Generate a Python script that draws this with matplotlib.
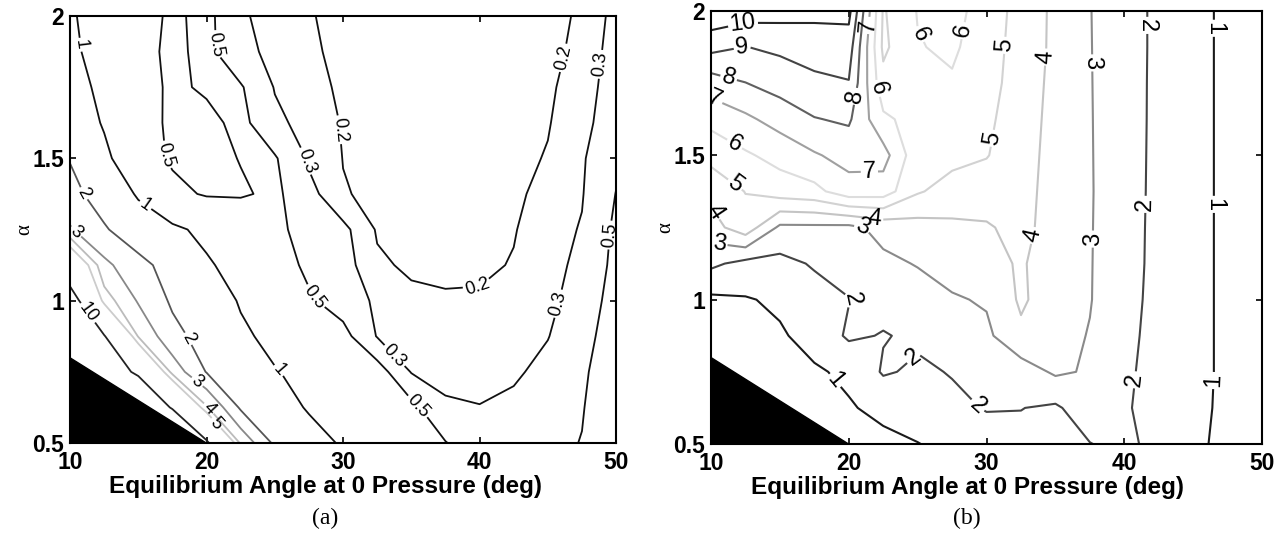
import numpy as np
import matplotlib
matplotlib.use("Agg")
import matplotlib.pyplot as plt

plt.rcParams['font.family'] = ['Liberation Sans', 'DejaVu Sans']

# grid of equilibrium angle (deg) and alpha shared by both panels
angle = [10, 12.5, 15, 17.5, 20, 22.5, 25, 27.5, 30, 32.5, 35, 37.5, 40, 42.5, 45, 47.5, 50]
alpha = [2.0, 1.875, 1.75, 1.625, 1.5, 1.375, 1.25, 1.125, 1.0, 0.875, 0.75, 0.625, 0.5]

# panel (a): values, first row is alpha = 2
cost_a = [
    [1.05, 0.8, 0.6, 0.46, 0.56, 0.315, 0.26, 0.205, 0.18, 0.17, 0.16, 0.155, 0.155, 0.16, 0.185, 0.207, 0.34],
    [1.1, 0.8, 0.58, 0.45, 0.56, 0.34, 0.265, 0.21, 0.185, 0.17, 0.16, 0.155, 0.155, 0.16, 0.185, 0.215, 0.36],
    [1.2, 0.88, 0.6, 0.46, 0.53, 0.52, 0.29, 0.22, 0.19, 0.175, 0.165, 0.16, 0.16, 0.17, 0.19, 0.23, 0.38],
    [1.3, 0.96, 0.62, 0.45, 0.44, 0.56, 0.34, 0.24, 0.195, 0.18, 0.17, 0.165, 0.165, 0.175, 0.195, 0.25, 0.4],
    [1.95, 1.1, 0.66, 0.46, 0.42, 0.51, 0.52, 0.28, 0.198, 0.185, 0.175, 0.17, 0.17, 0.18, 0.205, 0.28, 0.46],
    [2.3, 1.55, 0.92, 0.58, 0.47, 0.47, 0.55, 0.34, 0.205, 0.185, 0.175, 0.17, 0.17, 0.185, 0.225, 0.29, 0.505],
    [3.1, 2.1, 1.4, 1.08, 0.9, 0.75, 0.55, 0.42, 0.33, 0.19, 0.18, 0.175, 0.18, 0.195, 0.245, 0.31, 0.54],
    [7.0, 3.25, 2.3, 1.6, 1.05, 0.85, 0.62, 0.45, 0.35, 0.215, 0.185, 0.18, 0.185, 0.205, 0.26, 0.33, 0.56],
    [12.0, 4.5, 2.9, 1.85, 1.35, 0.95, 0.75, 0.53, 0.4, 0.27, 0.22, 0.21, 0.21, 0.225, 0.27, 0.36, 0.6],
    [14.0, 10.2, 3.9, 2.3, 1.6, 1.1, 0.85, 0.7, 0.57, 0.29, 0.24, 0.23, 0.225, 0.24, 0.295, 0.4, 0.65],
    [20, 13.0, 9.2, 3.6, 1.95, 1.45, 1.03, 0.85, 0.7, 0.6, 0.29, 0.26, 0.25, 0.28, 0.34, 0.45, 0.7],
    [20, 20, 16, 9.5, 4.1, 1.85, 1.35, 0.93, 0.8, 0.7, 0.56, 0.32, 0.305, 0.33, 0.38, 0.48, 0.75],
    [20, 20, 20, 20, 10.5, 3.8, 1.8, 1.3, 0.92, 0.8, 0.7, 0.51, 0.36, 0.38, 0.42, 0.51, 0.8],
]
levels_a = [0.2, 0.3, 0.5, 1, 2, 3, 4, 5, 10]
colors_a = ['#111111', '#111111', '#111111', '#111111', '#555555', '#888888', '#bbbbbb', '#cccccc', '#222222']
labels_a = {
    0.2: [(29.6, 1.6), (39.8, 1.07), (46.4, 1.85)],
    0.3: [(27.2, 1.49), (33.4, 0.79), (46.1, 0.985), (48.9, 1.83)],
    0.5: [(16.6, 1.51), (27.8, 1.01), (35.5, 0.63), (21.0, 1.9), (49.7, 1.23)],
    1: [(10.9, 1.9), (15.0, 1.3), (25.4, 0.76)],
    2: [(10.7, 1.37), (17.6, 0.84)],
    3: [(10.4, 1.24), (18.9, 0.69)],
    4: [(19.9, 0.61)],
    5: [(20.5, 0.56)],
    10: [(11.1, 0.95)],
}

# panel (b)
cost_b = [
    [10.8, 10.5, 10.4, 10.3, 10.3, 4.9, 6.05, 6.3, 5.6, 4.6, 3.8, 3.03, 2.4, 1.8, 1.3, 0.8, 0.6],
    [9.3, 8.98, 9.2, 9.4, 9.5, 4.8, 5.95, 6.15, 5.5, 4.55, 3.8, 3.04, 2.4, 1.8, 1.3, 0.8, 0.6],
    [7.5, 7.98, 8.4, 8.8, 8.95, 5.3, 5.8, 5.9, 5.4, 4.5, 3.75, 3.05, 2.38, 1.8, 1.3, 0.8, 0.6],
    [6.3, 6.8, 7.4, 7.95, 8.15, 6.2, 5.6, 5.6, 5.2, 4.45, 3.7, 3.06, 2.37, 1.8, 1.3, 0.8, 0.6],
    [5.33, 5.87, 6.33, 6.9, 7.35, 7.4, 5.3, 5.3, 5.05, 4.4, 3.65, 3.07, 2.35, 1.8, 1.3, 0.8, 0.6],
    [4.3, 5.03, 5.5, 5.7, 6.6, 6.5, 5.1, 4.6, 4.5, 4.35, 3.6, 3.08, 2.33, 1.8, 1.3, 0.8, 0.6],
    [3.6, 4.6, 2.8, 2.8, 2.75, 3.3, 3.6, 3.8, 3.9, 4.3, 3.55, 3.07, 2.3, 1.8, 1.3, 0.8, 0.6],
    [2.2, 1.7, 1.7, 2.1, 2.4, 2.8, 3.05, 3.4, 3.7, 4.1, 3.5, 3.06, 2.28, 1.8, 1.3, 0.8, 0.6],
    [0.8, 0.93, 1.15, 1.6, 1.97, 2.3, 2.6, 2.9, 3.1, 4.15, 3.45, 3.05, 2.25, 1.78, 1.3, 0.8, 0.6],
    [0.6, 0.7, 0.9, 1.3, 2.15, 1.95, 2.15, 2.45, 2.8, 3.8, 3.35, 2.95, 2.2, 1.75, 1.3, 0.8, 0.6],
    [0.3, 0.6, 0.75, 0.9, 1.15, 2.1, 1.85, 2.05, 2.4, 2.5, 3.15, 2.9, 2.15, 1.7, 1.3, 0.8, 0.6],
    [0.3, 0.3, 0.3, 0.8, 0.93, 1.2, 1.55, 1.8, 2.05, 2.02, 1.85, 2.6, 2.1, 1.65, 1.25, 0.8, 0.6],
    [0.3, 0.3, 0.3, 0.3, 0.6, 0.8, 0.97, 1.3, 1.6, 1.75, 1.8, 1.97, 2.3, 1.6, 1.2, 0.75, 0.55],
]
levels_b = [1, 2, 3, 4, 5, 6, 7, 8, 9, 10]
colors_b = ['#1a1a1a', '#444444', '#8a8a8a', '#c4c4c4', '#d2d2d2', '#dddddd',
            '#a0a0a0', '#606060', '#444444', '#262626']
labels_b = {
    10: [(12.3, 1.96)],
    9: [(12.2, 1.89)],
    8: [(11.4, 1.79), (21.0, 1.7)],
    7: [(10.4, 1.71), (21.5, 1.43), (21.4, 1.95)],
    6: [(11.6, 1.53), (22.85, 1.74), (25.2, 1.92), (28.5, 1.93)],
    5: [(11.6, 1.39), (31.6, 1.88), (30.3, 1.56)],
    4: [(10.5, 1.31), (34.4, 1.84), (33.6, 1.22), (22.0, 1.33)],
    3: [(10.6, 1.2), (21.0, 1.25), (37.6, 1.82), (37.4, 1.21)],
    2: [(20.5, 1.0), (24.7, 0.8), (29.5, 0.64), (41.8, 1.95), (41.6, 1.33), (41.2, 0.72)],
    1: [(19.0, 0.72), (46.6, 1.94), (46.5, 1.33), (46.4, 0.72)],
}

# infeasible corner drawn solid black
infeasible_x = [10, 20]
infeasible_y = [0.8, 0.5]

fig = plt.figure(figsize=(12.83, 5.4), dpi=100)
ax_a = fig.add_axes([0.0546, 0.1796, 0.4256, 0.7907])
ax_b = fig.add_axes([0.5542, 0.1778, 0.4295, 0.8019])


def draw_panel(ax, values, levels, colors, labels, label_size, lw, xlab_x):
    ax.set_xlim(10, 50)
    ax.set_ylim(0.5, 2)
    z = np.array(values)
    # one contour set per level so each label lands on its own level
    for lev, col in zip(levels, colors):
        cs = ax.contour(angle, alpha, z, levels=[lev], colors=[col], linewidths=lw)
        if lev in labels and len(cs.allsegs[0]) > 0:
            ax.clabel(cs, manual=labels[lev], fmt='%g', fontsize=label_size,
                      colors='k', inline=True, inline_spacing=2)
    ax.fill_between(infeasible_x, infeasible_y, 0.5, color='k', zorder=3)
    ax.set_xticks([10, 20, 30, 40, 50])
    ax.set_yticks([0.5, 1, 1.5, 2])
    ax.set_yticklabels(['0.5', '1', '1.5', '2'])
    ax.tick_params(direction='in', top=True, right=True, length=4, width=1.2,
                   labelsize=16.5, pad=4.5)
    ax.tick_params(axis='x', pad=6)
    for lbl in ax.get_xticklabels() + ax.get_yticklabels():
        lbl.set_fontweight('bold')
    for sp in ax.spines.values():
        sp.set_linewidth(1.5)
    ax.set_xlabel('Equilibrium Angle at 0 Pressure (deg)', fontsize=17.5,
                  fontweight='bold')
    ax.xaxis.set_label_coords(xlab_x, -0.075)
    ax.set_ylabel('α', family='Liberation Serif', fontsize=15)
    ax.yaxis.set_label_coords(-0.065, 0.5)


draw_panel(ax_a, cost_a, levels_a, colors_a, labels_a, 13, 1.3, 0.467)
draw_panel(ax_b, cost_b, levels_b, colors_b, labels_b, 17, 1.5, 0.465)

fig.text(325 / 1283, 1 - 518 / 540, '(a)', ha='center', va='center',
         family='Liberation Serif', fontsize=17)
fig.text(967 / 1283, 1 - 518 / 540, '(b)', ha='center', va='center',
         family='Liberation Serif', fontsize=17)

fig.savefig('out.png', dpi=100)
